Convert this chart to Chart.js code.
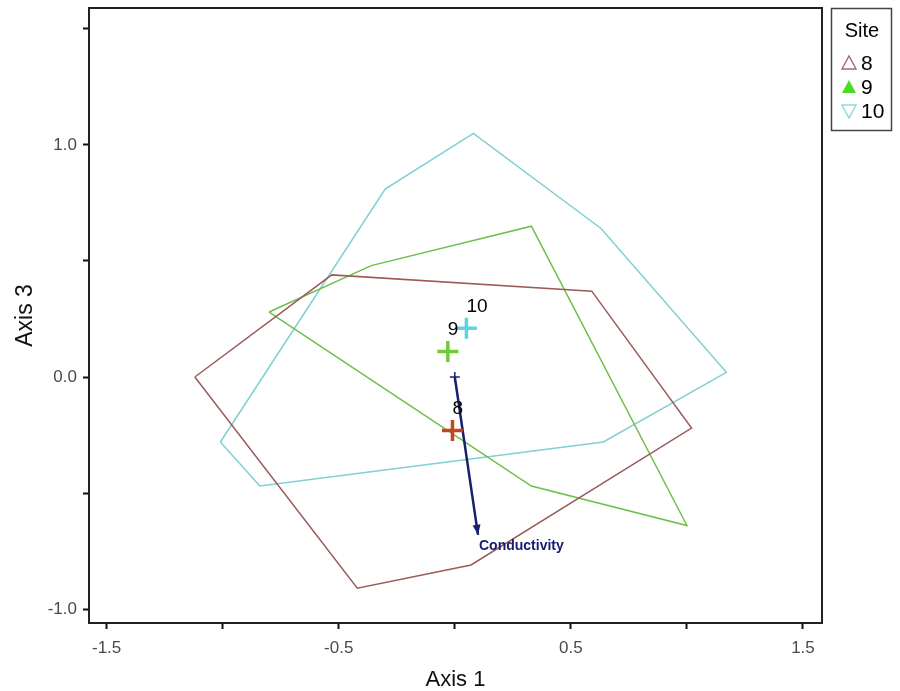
<!DOCTYPE html>
<html>
<head>
<meta charset="utf-8">
<script src="https://cdn.jsdelivr.net/npm/chart.js@4.4.1/dist/chart.umd.min.js"></script>
<style>
    html, body { margin: 0; padding: 0; background: #fff; }
    #wrap { position: relative; width: 900px; height: 691px; }
</style>
</head>
<body>
<div id="wrap"><canvas id="chart"></canvas></div>
<script>
// convex hulls of the sites (Axis 1 / Axis 3 scores)
const site8X = [-1.12, -0.53, 0.59, 1.02, 0.07, -0.42];
const site8Y = [0.0, 0.44, 0.37, -0.22, -0.81, -0.91];
const site9X = [-0.80, -0.36, 0.33, 1.00, 0.33];
const site9Y = [0.28, 0.48, 0.65, -0.64, -0.47];
const site10X = [-1.01, -0.30, 0.08, 0.63, 1.17, 0.64, -0.84];
const site10Y = [-0.28, 0.81, 1.05, 0.64, 0.02, -0.28, -0.47];

// group centroids
const siteLabels = ["8", "9", "10"];
const centroidX = [-0.01, -0.03, 0.05];
const centroidY = [-0.23, 0.11, 0.21];

// biplot vector
const vectorName = "Conductivity";
const vectorX = [0, 0.10];
const vectorY = [0, -0.68];

// ticks
const xTickLabels = [-1.5, -0.5, 0.5, 1.5];
const yTickLabels = [-1.0, 0.0, 1.0];

const colors = {
    s8: "#9c5a5a",
    s9: "#6fbf4a",
    s10: "#7fd0d2",
    c8: "#c2461f",
    c9: "#6fcc33",
    c10: "#5fd3e0",
    navy: "#17206e",
};

const PLOT_TOP = 8;

const toPoints = (xs, ys, close) => {
    const pts = xs.map((x, i) => ({ x, y: ys[i] }));
    if (close) pts.push({ ...pts[0] });
    return pts;
};

const hull = (xs, ys, color, label) => ({
    label,
    data: toPoints(xs, ys, true),
    showLine: true,
    borderColor: color,
    borderWidth: 1.5,
    pointRadius: 0,
    fill: false,
    tension: 0,
    order: 3,
});

// pull the plot top up to where the original frame sits
const fixTop = {
    id: "fixTop",
    afterLayout(chart) {
        const ys = chart.scales.y;
        const shift = ys.top - PLOT_TOP;
        if (shift <= 0) return;
        ys.top = PLOT_TOP;
        ys.height += shift;
        ys.configure();
        ys._gridLineItems = null;
        ys._labelItems = null;
        chart.chartArea.top = PLOT_TOP;
        chart.chartArea.height += shift;
    },
};

const overlay = {
    id: "overlay",
    afterDatasetsDraw(chart) {
        const { ctx, chartArea, scales } = chart;
        const xs = scales.x, ys = scales.y;
        ctx.save();

        // frame
        ctx.strokeStyle = "#222";
        ctx.lineWidth = 2;
        ctx.strokeRect(chartArea.left, chartArea.top,
            chartArea.right - chartArea.left, chartArea.bottom - chartArea.top);

        // arrow head
        const x0 = xs.getPixelForValue(vectorX[0]), y0 = ys.getPixelForValue(vectorY[0]);
        const x1 = xs.getPixelForValue(vectorX[1]), y1 = ys.getPixelForValue(vectorY[1]);
        const ang = Math.atan2(y1 - y0, x1 - x0);
        const len = 10, half = 4;
        ctx.fillStyle = colors.navy;
        ctx.beginPath();
        ctx.moveTo(x1, y1);
        ctx.lineTo(x1 - len * Math.cos(ang) + half * Math.sin(ang),
                   y1 - len * Math.sin(ang) - half * Math.cos(ang));
        ctx.lineTo(x1 - len * Math.cos(ang) - half * Math.sin(ang),
                   y1 - len * Math.sin(ang) + half * Math.cos(ang));
        ctx.closePath();
        ctx.fill();

        ctx.font = "bold 14px 'Liberation Sans', Arial, sans-serif";
        ctx.textAlign = "left";
        ctx.textBaseline = "middle";
        ctx.fillText(vectorName, x1 + 1, y1 + 11);

        // centroid labels
        ctx.fillStyle = "#000";
        ctx.font = "19px 'Liberation Sans', Arial, sans-serif";
        ctx.textBaseline = "alphabetic";
        siteLabels.forEach((lab, i) => {
            const px = xs.getPixelForValue(centroidX[i]);
            const py = ys.getPixelForValue(centroidY[i]);
            ctx.fillText(lab, px, py - 16);
        });

        // legend
        const lx = 831, ly = 8, lw = 60, lh = 122;
        ctx.strokeStyle = "#444";
        ctx.lineWidth = 1.5;
        ctx.strokeRect(lx + 0.5, ly + 0.5, lw, lh);
        ctx.fillStyle = "#000";
        ctx.font = "20px 'Liberation Sans', Arial, sans-serif";
        ctx.textAlign = "center";
        ctx.textBaseline = "middle";
        ctx.fillText("Site", lx + lw / 2 + 1, 31);

        const rows = [
            { y: 63, color: "#a86a6a", fill: false, down: false },
            { y: 87, color: "#4cdc22", fill: true, down: false },
            { y: 111, color: "#8dd8e0", fill: false, down: true },
        ];
        rows.forEach((r, i) => {
            const cx = 849, s = 7;
            ctx.beginPath();
            if (r.down) {
                ctx.moveTo(cx - s, r.y - 6);
                ctx.lineTo(cx + s, r.y - 6);
                ctx.lineTo(cx, r.y + 7);
            } else {
                ctx.moveTo(cx - s, r.y + 6);
                ctx.lineTo(cx + s, r.y + 6);
                ctx.lineTo(cx, r.y - 7);
            }
            ctx.closePath();
            if (r.fill) {
                ctx.fillStyle = r.color;
                ctx.fill();
            } else {
                ctx.strokeStyle = r.color;
                ctx.lineWidth = 1.4;
                ctx.stroke();
            }
            ctx.fillStyle = "#000";
            ctx.font = "21px 'Liberation Sans', Arial, sans-serif";
            ctx.textAlign = "left";
            ctx.fillText(siteLabels[i], 861, r.y + 1);
        });

        ctx.restore();
    },
};

const fmt = (v) => (Math.abs(v) < 1e-9 ? 0 : v).toFixed(1);

const axisCommon = (labels) => ({
    type: "linear",
    grid: {
        drawOnChartArea: false,
        drawTicks: true,
        tickLength: 6,
        tickWidth: 2,
        tickColor: "#111",
    },
    border: { display: true, color: "#111", width: 2 },
    ticks: {
        stepSize: 0.5,
        includeBounds: false,
        autoSkip: false,
        maxRotation: 0,
        color: "#4a4a4a",
        font: { family: "'Liberation Sans', Arial, sans-serif", size: 17 },
        callback: (v) => (labels.some((l) => Math.abs(l - v) < 1e-6) ? fmt(v) : ""),
    },
});

const xAxis = axisCommon(xTickLabels);
Object.assign(xAxis, {
    min: -1.576,
    max: 1.582,
    afterFit: (scale) => { scale.height = 68; },
    title: {
        display: true,
        text: "Axis 1",
        color: "#111",
        font: { family: "'Liberation Sans', Arial, sans-serif", size: 22 },
        padding: { top: 0, bottom: -2 },
    },
});
xAxis.ticks.padding = 9;

const yAxis = axisCommon(yTickLabels);
Object.assign(yAxis, {
    min: -1.06,
    max: 1.59,
    afterFit: (scale) => { scale.width = 89; },
    title: {
        display: true,
        text: "Axis 3",
        color: "#111",
        font: { family: "'Liberation Sans', Arial, sans-serif", size: 23 },
        padding: { top: 12, bottom: 0 },
    },
});
yAxis.ticks.padding = 6;

new Chart(document.getElementById("chart").getContext("2d"), {
    type: "scatter",
    data: {
        datasets: [
            {
                label: "centroids",
                data: toPoints(centroidX, centroidY, false),
                pointStyle: "cross",
                pointRadius: 10.5,
                pointBorderWidth: 3.5,
                borderColor: [colors.c8, colors.c9, colors.c10],
                backgroundColor: [colors.c8, colors.c9, colors.c10],
                order: 0,
            },
            {
                label: "origin",
                data: [{ x: vectorX[0], y: vectorY[0] }],
                pointStyle: "cross",
                pointRadius: 5,
                pointBorderWidth: 1.5,
                borderColor: colors.navy,
                order: 1,
            },
            {
                label: vectorName,
                data: toPoints(vectorX, vectorY, false),
                showLine: true,
                borderColor: colors.navy,
                borderWidth: 2.5,
                pointRadius: 0,
                order: 1,
            },
            hull(site8X, site8Y, colors.s8, "8"),
            hull(site9X, site9Y, colors.s9, "9"),
            hull(site10X, site10Y, colors.s10, "10"),
        ],
    },
    options: {
        responsive: true,
        maintainAspectRatio: false,
        animation: false,
        layout: { padding: { left: 0, right: 78, top: PLOT_TOP, bottom: 0 } },
        plugins: {
            legend: { display: false },
            tooltip: { enabled: false },
        },
        scales: { x: xAxis, y: yAxis },
    },
    plugins: [fixTop, overlay],
});
</script>
</body>
</html>
